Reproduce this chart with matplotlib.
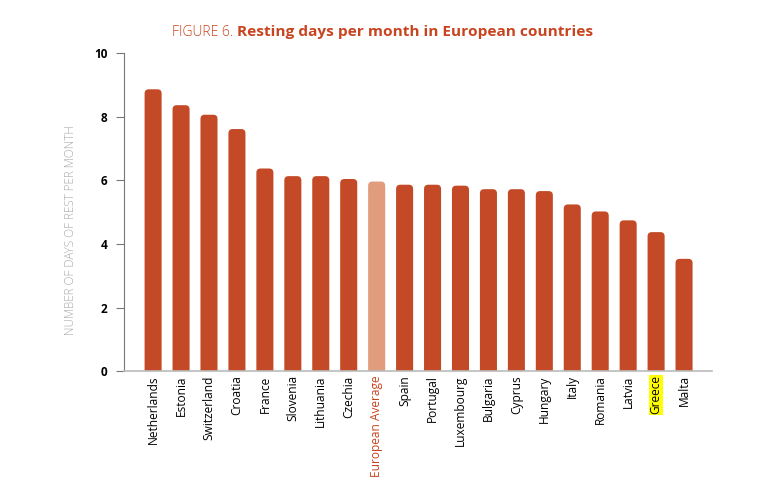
import numpy as np
import matplotlib.pyplot as plt
from matplotlib.patches import FancyBboxPatch

# Resting days per month
countries = ["Netherlands", "Estonia", "Switzerland", "Croatia", "France", "Slovenia",
             "Lithuania", "Czechia", "European Average", "Spain", "Portugal", "Luxembourg",
             "Bulgaria", "Cyprus", "Hungary", "Italy", "Romania", "Latvia", "Greece", "Malta"]
days = np.array([8.86, 8.36, 8.06, 7.61, 6.37, 6.13, 6.13, 6.04, 5.96, 5.86, 5.86, 5.83,
                 5.72, 5.72, 5.66, 5.24, 5.02, 4.74, 4.37, 3.53])
yticks = [0, 2, 4, 6, 8, 10]

bar_col = "#C44A27"
avg_col = "#E09C7C"
title_col = "#C8441F"

plt.rcParams['font.family'] = ['Open Sans', 'DejaVu Sans']

fig = plt.figure(figsize=(7.61, 4.82), dpi=100)
ax = fig.add_axes([0.163, 0.230, 0.7726, 0.660])

x = np.arange(len(countries))
colors = [avg_col if c == "European Average" else bar_col for c in countries]
bars = ax.bar(x, days, width=0.61, color=colors)

# swap plain bars for ones with rounded tops
for b in bars:
    b.set_visible(False)
    p = FancyBboxPatch((b.get_x(), -0.5), b.get_width(), b.get_height() + 0.5,
                       boxstyle="round,pad=0,rounding_size=0.15", mutation_aspect=0.88,
                       facecolor=b.get_facecolor(), edgecolor="none")
    ax.add_patch(p)

ax.set_xlim(-1.04, len(countries))
ax.set_ylim(0, 10)
ax.set_yticks(yticks)
ax.set_yticklabels([str(t) for t in yticks], fontsize=8.5, fontweight='bold')
ax.tick_params(axis='y', length=6, width=0.8, color="#777777", pad=6)
ax.set_xticks(x)
ax.set_xticklabels(countries, rotation=90, fontsize=8.6)
ax.tick_params(axis='x', length=0, pad=3)

for s in ['top', 'right']:
    ax.spines[s].set_visible(False)
ax.spines['left'].set_color("#777777")
ax.spines['left'].set_linewidth(0.8)
ax.spines['bottom'].set_color("#BBBBBB")
ax.spines['bottom'].set_linewidth(1.2)

for lbl in ax.get_xticklabels():
    if lbl.get_text() == "European Average":
        lbl.set_color(title_col)
    if lbl.get_text() == "Greece":
        lbl.set_bbox(dict(facecolor="#FFFF00", edgecolor="none", pad=0.5))

fig.text(70 / 761, 1 - 230 / 482, "NUMBER OF DAYS OF REST PER MONTH", rotation=90,
         ha='center', va='center', fontsize=8.5, color="#AAAAAA", fontweight='light')

fig.text(233 / 761, 1 - 32 / 482, "FIGURE 6.", ha='right', va='center',
         fontsize=10, color=title_col, fontweight='light')
fig.text(237 / 761, 1 - 32 / 482, "Resting days per month in European countries",
         ha='left', va='center', fontsize=11.1, color=title_col, fontweight='bold')

fig.savefig("out.png", dpi=100)
